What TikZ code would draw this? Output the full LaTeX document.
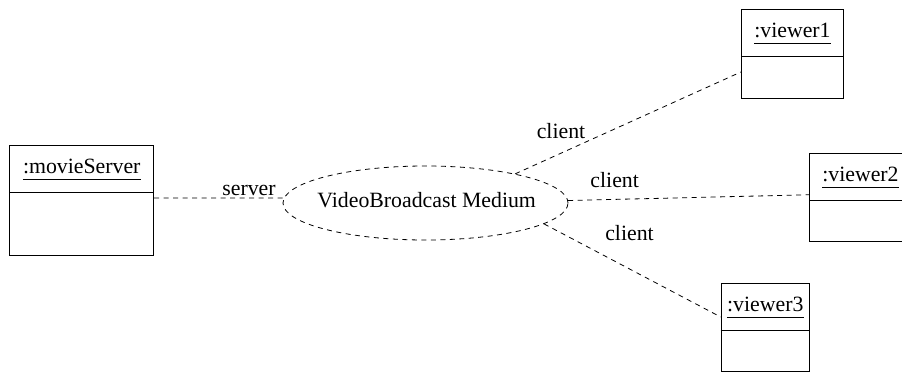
\documentclass[tikz,border=0pt]{standalone}
\usepackage{fontspec}
\setmainfont{Liberation Serif}
\usetikzlibrary{shapes.geometric}
\begin{document}
\begin{tikzpicture}[x=1pt,y=-1pt,
  every node/.style={font=\fontsize{21.8}{26}\selectfont},
  objbox/.style={draw, line width=0.9pt, inner sep=0pt, anchor=north west},
  objtitle/.style={anchor=base, inner sep=0pt},
  uline/.style={line width=1.2pt},
  conn/.style={line width=0.8pt, dash pattern=on 5pt off 4.5pt},
  medium/.style={ellipse, draw, line width=0.8pt, dash pattern=on 5pt off 4.5pt, inner sep=0pt, minimum width=285pt, minimum height=74pt},
  lbl/.style={anchor=base, inner sep=0pt}]
\useasboundingbox (0,0) rectangle (902,375);
% object boxes
\node[objbox, minimum width=144pt, minimum height=110pt] (ms) at (9.3,145) {};
\node[objbox, minimum width=102pt, minimum height=89pt] (v1) at (741,9.3) {};
\node[objbox, minimum width=102pt, minimum height=88pt] (v2) at (809,153) {};
\node[objbox, minimum width=88.3pt, minimum height=87.7pt] (v3) at (720.7,283) {};
% dividers
\foreach \b in {ms,v1,v2,v3}{
  \draw[line width=0.9pt] ([yshift=-47.5pt]\b.north west) -- ([yshift=-47.5pt]\b.north east);
}
% titles
\node[objtitle] (tms) at ([yshift=-28pt]ms.north) {:movieServer};
\node[objtitle] (tv1) at ([yshift=-28pt]v1.north) {:viewer1};
\node[objtitle] (tv2) at ([yshift=-28pt]v2.north) {:viewer2};
\node[objtitle] (tv3) at ([yshift=-28pt]v3.north) {:viewer3};
\foreach \t in {tms,tv1,tv2,tv3}{
  \draw[uline] ([yshift=-6.5pt]\t.base west) -- ([yshift=-6.5pt]\t.base east);
}
% medium
\node[medium] (med) at (425.5,203) {};
\node[lbl] (medtxt) at (426.7,207) {VideoBroadcast Medium};
% connectors
\draw[conn] (ms.2) -- (med.178);
\draw[conn] (med.18) -- (v1.199);
\draw[conn] (med.1) -- (v2.177);
\draw[conn] (med.350) -- (v3.167);
% labels
\node[lbl] (lserver) at (249,195) {server};
\node[lbl] (lc1) at (561,138.3) {client};
\node[lbl] (lc2) at (614.7,187.7) {client};
\node[lbl] (lc3) at (629.5,240) {client};
\end{tikzpicture}
\end{document}
